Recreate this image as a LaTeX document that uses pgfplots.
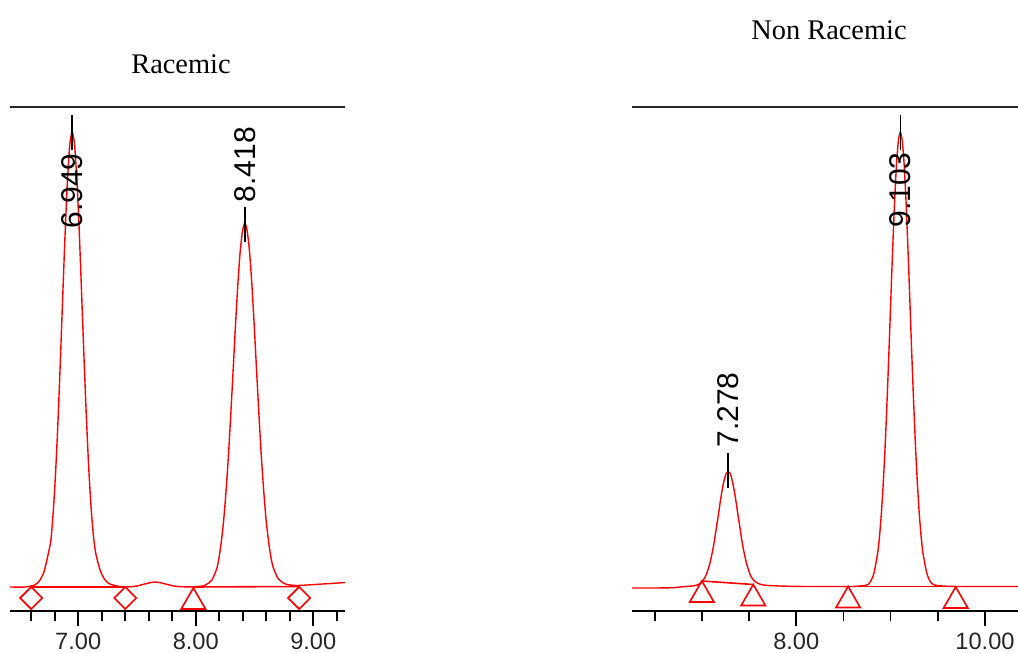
\documentclass[border=0pt]{standalone}
\usepackage{fontspec}
\setmainfont{Liberation Serif}
\newfontfamily\arial{Liberation Sans}
\usepackage{pgfplots}
\pgfplotsset{compat=1.18}
\tikzset{plab/.style={font=\arial\fontsize{15}{15}\selectfont, rotate=90, text=black, inner sep=0pt}}
\begin{document}
\begin{tikzpicture}[x=1pt,y=1pt]
\path[use as bounding box] (0,0) rectangle (509,326.5);
\pgfplotsset{
  chrom/.style={
    scale only axis, height=252pt, ymin=0, ymax=504,
    axis y line=none, axis x line=bottom,
    x axis line style={-, line width=0.9pt, black},
    xtick align=outside,
    major tick length=7.5pt, minor tick length=5pt,
    every tick/.style={black, line width=0.9pt},
    every minor tick/.style={black, line width=0.9pt},
    xticklabel style={font=\arial\fontsize{11.8}{12}\selectfont, text=black!85},
    /pgf/number format/assume math mode=true,
    xticklabel={\pgfmathprintnumber[fixed,fixed zerofill,precision=2]{\tick}},
    clip=false,
  },
  sig/.style={red, line width=0.7pt, no marks, smooth, tension=0.4},
  ib/.style={red, line width=0.8pt, no marks},
  tri/.style={only marks, mark=triangle, mark size=7pt, mark options={red, line width=0.8pt, fill=none}},
  dia/.style={only marks, mark=square, mark size=3.9pt, mark options={red, line width=0.8pt, fill=none, rotate=45}},
}
% ---------------- Left: Racemic ----------------
\begin{axis}[chrom, at={(5pt,21pt)}, anchor=south west, width=167.5pt,
  xmin=6.42, xmax=9.27, xtick={7,8,9},
  minor xtick={6.6,6.8,7.2,7.4,7.6,7.8,8.2,8.4,8.6,8.8,9.2}]
\addplot[sig] coordinates {
(6.42,24) (6.549,24) (6.629,26) (6.669,30) (6.709,39) (6.749,59) (6.769,72)
(6.789,101) (6.809,141) (6.829,192) (6.849,252) (6.869,316) (6.889,378)
(6.909,431) (6.929,467) (6.949,479) (6.969,467) (6.989,431) (7.009,380)
(7.029,318) (7.049,255) (7.069,196) (7.089,145) (7.109,105) (7.129,76)
(7.149,58) (7.189,40) (7.229,31) (7.269,27) (7.349,24.5) (7.40,24)
(7.45,24.3) (7.50,25) (7.55,26.5) (7.60,28) (7.65,29) (7.70,28.3)
(7.75,26.8) (7.80,25.3) (7.85,24.5) (7.90,24.2) (7.98,24.2)
(8.058,25) (8.098,27) (8.138,31) (8.178,42) (8.198,53) (8.218,69.5)
(8.238,91) (8.258,120) (8.278,155) (8.298,196) (8.318,240) (8.338,285)
(8.358,326) (8.378,359) (8.398,380) (8.418,388) (8.438,380) (8.458,359)
(8.478,326) (8.498,285) (8.518,240) (8.538,196) (8.558,155) (8.578,121)
(8.598,92) (8.618,71) (8.638,55) (8.658,44) (8.698,33) (8.738,28.5)
(8.778,26.5) (8.85,25.5) (8.95,26) (9.05,26.8) (9.15,27.5) (9.27,28.5)
};
\addplot[ib] coordinates {(6.6,24) (7.4,24)};
\addplot[ib] coordinates {(7.98,24) (8.88,24.5)};
\addplot[dia] coordinates {(6.6,13) (7.4,13) (8.88,13)};
\addplot[tri] coordinates {(7.98,9)};
\draw[line width=1.2pt, black!85] (rel axis cs:0,1) -- (rel axis cs:1,1);
\draw[black, line width=0.8pt] (axis cs:6.949,496) -- (axis cs:6.949,461);
\node[plab] at (axis cs:6.949,420) {6.949};
\draw[black, line width=0.8pt] (axis cs:8.418,404) -- (axis cs:8.418,369);
\node[plab] at (axis cs:8.418,446.5) {8.418};
\end{axis}
% ---------------- Right: Non Racemic ----------------
\begin{axis}[chrom, at={(316pt,21pt)}, anchor=south west, width=193pt,
  xmin=6.26, xmax=10.35, xtick={8,10},
  minor xtick={6.5,7,7.5,8.5,9,9.5}]
\addplot[sig] coordinates {
(6.26,23) (6.50,23) (6.70,23.3) (6.80,24.3) (6.90,25) (6.958,26.2)
(6.998,29) (7.038,34.5) (7.078,45) (7.098,53) (7.118,62) (7.138,73)
(7.158,86) (7.178,98) (7.198,111) (7.218,122.5) (7.238,131.5) (7.258,137.5)
(7.278,139.5) (7.298,138) (7.318,132) (7.338,123) (7.358,112) (7.378,99)
(7.398,87) (7.418,74) (7.438,63) (7.458,54) (7.478,46) (7.518,35)
(7.558,30) (7.598,27.5) (7.65,26) (7.75,25.3) (7.90,24.8) (8.10,24.5)
(8.40,24.5) (8.60,24.5) (8.743,25.8) (8.783,28.9) (8.823,37.5) (8.863,58)
(8.883,75) (8.903,98.5) (8.923,129) (8.943,166.5) (8.963,211.5) (8.983,260.5)
(9.003,313.5) (9.023,364.5) (9.043,410.5) (9.063,447.5) (9.083,470.5)
(9.103,479) (9.123,470.5) (9.143,447.5) (9.163,410.5) (9.183,364.5)
(9.203,313.5) (9.223,260.5) (9.243,211.5) (9.263,166.5) (9.283,129)
(9.303,98.5) (9.323,75) (9.343,58) (9.383,38) (9.423,29) (9.463,26)
(9.55,25) (9.70,24.5) (10.0,24.5) (10.35,24.5)
};
\addplot[ib] coordinates {(7.0,30) (7.545,26.5)};
\addplot[ib] coordinates {(8.55,24.5) (9.69,24.5)};
\addplot[tri] coordinates {(7.0,16) (7.545,12.5) (8.55,10.5) (9.69,10)};
\draw[line width=1.2pt, black!85] (rel axis cs:0,1) -- (rel axis cs:1,1);
\draw[black, line width=0.8pt] (axis cs:7.278,158) -- (axis cs:7.278,123);
\node[plab] at (axis cs:7.278,201) {7.278};
\draw[black, line width=0.8pt] (axis cs:9.103,496) -- (axis cs:9.103,461);
\node[plab] at (axis cs:9.103,421) {9.103};
\end{axis}
\node[anchor=base, font=\fontsize{14.2}{15}\selectfont] at (90.5,289.5) {Racemic};
\node[anchor=base, font=\fontsize{14.2}{15}\selectfont] at (414.5,306.5) {Non Racemic};
\end{tikzpicture}
\end{document}
